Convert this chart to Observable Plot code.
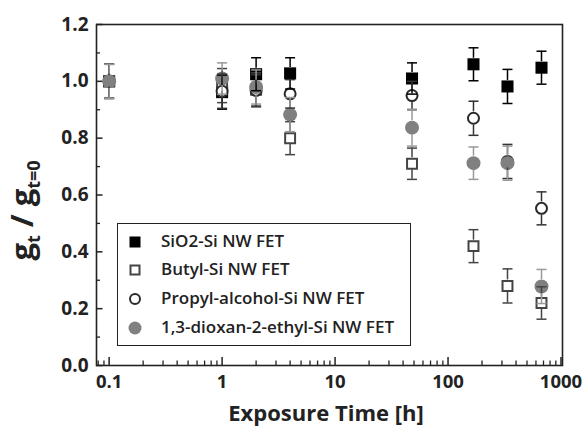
<!DOCTYPE html>
<html>
<head>
<meta charset="utf-8">
<script src="https://cdn.jsdelivr.net/npm/d3@7"></script>
<script src="https://cdn.jsdelivr.net/npm/@observablehq/plot@0.6"></script>
<style>
  html, body { margin: 0; padding: 0; background: #fff; }
  #wrap { position: relative; width: 587px; height: 429px; overflow: hidden; font-family: "Open Sans", sans-serif; }
  #legend { position: absolute; left: 117px; top: 223px; width: 294px; height: 123px; box-sizing: border-box;
            border: 1.5px solid #222; background: #fff; }
  .lrow { position: absolute; left: 0; height: 20px; }
  .lrow svg { position: absolute; left: 9px; top: 2px; }
  .lrow span { position: absolute; left: 43px; white-space: nowrap; font-size: 17px; font-weight: 600; color: #222; line-height: 20px; top: -1px; }
</style>
</head>
<body>
<div id="wrap"></div>
<script>
// ---- data ----
const hours      = [0.1, 1, 2, 4, 48, 168, 336, 672];
const sio2       = [1.00, 0.962, 1.025, 1.028, 1.010, 1.060, 0.982, 1.048];
const sio2Err    = [0.06, 0.060, 0.058, 0.055, 0.055, 0.058, 0.060, 0.058];
const butyl      = [1.00, 0.985, 0.970, 0.800, 0.710, 0.420, 0.280, 0.220];
const butylErr   = [0.06, 0.060, 0.060, 0.058, 0.055, 0.058, 0.060, 0.057];
const propyl     = [1.00, 0.965, 0.968, 0.956, 0.950, 0.870, 0.718, 0.553];
const propylErr  = [0.06, 0.060, 0.055, 0.050, 0.050, 0.060, 0.060, 0.058];
const dioxan     = [1.00, 1.010, 0.980, 0.883, 0.837, 0.712, 0.712, 0.278];
const dioxanErr  = [0.06, 0.055, 0.060, 0.060, 0.065, 0.057, 0.060, 0.060];
const seriesNames = ["SiO2-Si NW FET", "Butyl-Si NW FET", "Propyl-alcohol-Si NW FET", "1,3-dioxan-2-ethyl-Si NW FET"];
const xTickValues = [0.1, 1, 10, 100, 1000];
const xTickLabels = ["0.1", "1", "10", "100", "1000"];
const yTickValues = [0, 0.2, 0.4, 0.6, 0.8, 1.0, 1.2];
const yTickLabels = ["0.0", "0.2", "0.4", "0.6", "0.8", "1.0", "1.2"];
const yMinorValues = [0.1, 0.3, 0.5, 0.7, 0.9, 1.1];
const xTitle = "Exposure Time [h]";

// ---- layout / styles ----
const W = 587, H = 429;
const mL = 96, mR = 25, mT = 24, mB = 64;
const xDomain = [0.0773, 1031];
const yDomain = [0, 1.2];
const pxPerY = (H - mT - mB) / (yDomain[1] - yDomain[0]);
const pxPerDecade = (W - mL - mR) / Math.log10(xDomain[1] / xDomain[0]);
const ink = "#222";

const styles = [
  {symbol: "square", fill: "#000", stroke: "none", sw: 0, r: 6.8, err: "#000", gap: 6},
  {symbol: "square", fill: "#fff", stroke: "#444", sw: 2, r: 5.6, err: "#444", gap: 6},
  {symbol: "circle", fill: "#fff", stroke: "#2a2a2a", sw: 2, r: 5.5, err: "#333", gap: 6.5},
  {symbol: "circle", fill: "#808080", stroke: "none", sw: 0, r: 7, err: "#999", gap: 7}
];
const valueSets = [sio2, butyl, propyl, dioxan];
const errSets = [sio2Err, butylErr, propylErr, dioxanErr];

const rows = [];
valueSets.forEach((vals, s) => vals.forEach((v, i) => rows.push({s, h: hours[i], v, e: errSets[s][i]})));

const xMinor = [];
for (const d of [0.01, 0.1, 1, 10, 100]) for (let m = 2; m <= 9; m++) {
  const t = d * m; if (t > xDomain[0] && t < xDomain[1]) xMinor.push(t);
}

const cap = {draw(ctx) { ctx.moveTo(-5, 0); ctx.lineTo(5, 0); }};

const markerMarks = styles.map((st, s) => Plot.dot(rows.filter(d => d.s === s), {
  x: "h", y: "v", symbol: st.symbol, r: st.r, fill: st.fill, stroke: st.stroke, strokeWidth: st.sw
}));

const errMarks = styles.flatMap((st, s) => {
  const data = rows.filter(d => d.s === s);
  const g = st.gap / pxPerY;
  return [
    Plot.ruleX(data, {x: "h", y1: d => d.v + g, y2: d => d.v + d.e, stroke: st.err, strokeWidth: 1.5}),
    Plot.ruleX(data, {x: "h", y1: d => d.v - d.e, y2: d => d.v - g, stroke: st.err, strokeWidth: 1.5}),
    Plot.dot(data, {x: "h", y: d => d.v + d.e, symbol: cap, stroke: st.err, strokeWidth: 1.5, fill: "none"}),
    Plot.dot(data, {x: "h", y: d => d.v - d.e, symbol: cap, stroke: st.err, strokeWidth: 1.5, fill: "none"})
  ];
});

const plot = Plot.plot({
  width: W, height: H,
  marginLeft: mL, marginRight: mR, marginTop: mT, marginBottom: mB,
  x: {type: "log", domain: xDomain, axis: null},
  y: {domain: yDomain, axis: null},
  style: {fontFamily: "'Open Sans', sans-serif", background: "#fff", overflow: "visible"},
  marks: [
    // ticks (inward)
    Plot.ruleX(xTickValues, {x: d => d, y1: yDomain[0], y2: yDomain[0] + 8 / pxPerY, stroke: ink, strokeWidth: 1.5}),
    Plot.ruleX(xMinor, {x: d => d, y1: yDomain[0], y2: yDomain[0] + 4.5 / pxPerY, stroke: ink, strokeWidth: 1.3}),
    Plot.ruleY(yTickValues, {y: d => d, x1: xDomain[0], x2: xDomain[0] * 10 ** (6.5 / pxPerDecade), stroke: ink, strokeWidth: 1.5}),
    Plot.ruleY(yMinorValues, {y: d => d, x1: xDomain[0], x2: xDomain[0] * 10 ** (4 / pxPerDecade), stroke: ink, strokeWidth: 1.3}),
    // tick labels
    Plot.text(xTickValues, {x: d => d, y: yDomain[0], text: (d, i) => xTickLabels[i], dy: 17, fontSize: 18.5, fontWeight: 700, fill: ink}),
    Plot.text(yTickValues, {x: xDomain[0], y: d => d, text: (d, i) => yTickLabels[i], textAnchor: "end", dx: -8, fontSize: 19, fontWeight: 700, fill: ink, letterSpacing: 0.6}),
    ...markerMarks,
    ...errMarks,
    Plot.frame({stroke: ink, strokeWidth: 1.6})
  ]
});

const wrap = document.getElementById("wrap");
wrap.appendChild(plot);

const svg = d3.select(plot);
// x title
svg.append("text")
  .attr("x", 326).attr("y", 421)
  .attr("text-anchor", "middle")
  .attr("font-size", 22).attr("font-weight", 700).attr("fill", ink)
  .attr("font-family", "'Open Sans', sans-serif")
  .text(xTitle);
// y title g_t / g_t=0
const yt = svg.append("text")
  .attr("transform", `translate(33,${mT + (H - mT - mB) / 2 + 16}) rotate(-90)`)
  .attr("text-anchor", "middle")
  .attr("font-size", 31).attr("font-weight", 700).attr("fill", ink)
  .attr("font-family", "'Open Sans', sans-serif");
yt.append("tspan").text("g");
yt.append("tspan").attr("font-size", 18).attr("dy", 7).text("t");
yt.append("tspan").attr("dy", -7).text(" / g");
yt.append("tspan").attr("font-size", 18).attr("dy", 7).text("t=0");

// legend
const legend = document.createElement("div");
legend.id = "legend";
wrap.appendChild(legend);
const rowTops = [8, 36, 65, 94];
styles.forEach((st, s) => {
  const row = document.createElement("div");
  row.className = "lrow";
  row.style.top = rowTops[s] + "px";
  const sz = 16;
  let shape;
  if (st.symbol === "square") {
    const side = st.sw ? 9 : 11;
    shape = `<rect x="${(sz - side) / 2}" y="${(sz - side) / 2}" width="${side}" height="${side}" fill="${st.fill}" stroke="${st.stroke}" stroke-width="${st.sw}"/>`;
  } else {
    const rr = st.sw ? 5 : 6.5;
    shape = `<circle cx="${sz / 2}" cy="${sz / 2}" r="${rr}" fill="${st.fill}" stroke="${st.stroke}" stroke-width="${st.sw}"/>`;
  }
  row.innerHTML = `<svg width="${sz}" height="${sz}">${shape}</svg><span>${seriesNames[s]}</span>`;
  legend.appendChild(row);
});
</script>
</body>
</html>
